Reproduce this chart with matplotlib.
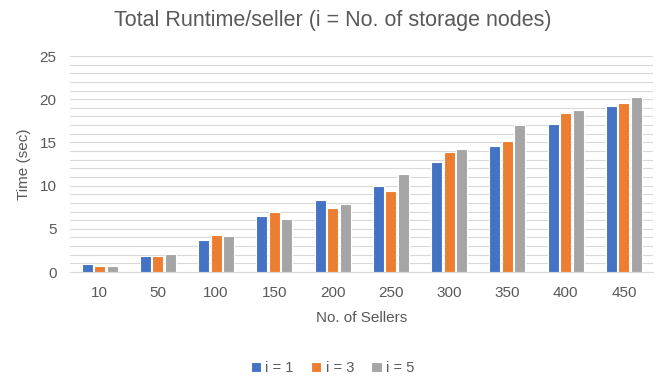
import matplotlib
matplotlib.use('Agg')
from matplotlib import pyplot as plt
import numpy as np

plt.rcParams['font.family'] = ['Liberation Sans', 'DejaVu Sans']

sellers = ['10', '50', '100', '150', '200', '250', '300', '350', '400', '450']
series_names = ['i = 1', 'i = 3', 'i = 5']
runtime_i1 = [0.93, 1.9, 3.7, 6.45, 8.38, 10.0, 12.74, 14.56, 17.14, 19.27]
runtime_i3 = [0.73, 1.9, 4.32, 6.95, 7.41, 9.38, 13.9, 15.2, 18.45, 19.61]
runtime_i5 = [0.73, 2.08, 4.17, 6.1, 7.9, 11.3, 14.25, 17.0, 18.76, 20.23]
colors = ['#4472C4', '#ED7D31', '#A5A5A5']

TEXT = '#595959'
GRID = '#D9D9D9'

fig = plt.figure(figsize=(6.65, 3.81), dpi=100)
ax = fig.add_axes([0.106, 0.286, 0.876, 0.567])

x = np.arange(len(sellers))
width = 0.19
step = 0.215
for k, (vals, name) in enumerate(zip([runtime_i1, runtime_i3, runtime_i5], series_names)):
    ax.bar(x + (k - 1) * step, vals, width, color=colors[k], label=name,
           edgecolor='white', linewidth=0.8, zorder=3)

ax.set_xlim(-0.5, 9.5)
ax.set_ylim(0, 25)
ax.set_yticks(np.arange(0, 26, 5))
ax.set_yticks(np.arange(0, 26, 1), minor=True)
ax.set_xticks(x)
ax.set_xticklabels(sellers)
ax.grid(axis='y', which='both', color=GRID, linewidth=0.8, zorder=0)
ax.tick_params(axis='both', which='both', length=0, colors=TEXT, labelsize=11)
ax.tick_params(axis='x', pad=10)
ax.tick_params(axis='y', pad=10)
for side in ['top', 'right', 'left']:
    ax.spines[side].set_visible(False)
ax.spines['bottom'].set_color(GRID)

ax.set_xlabel('No. of Sellers', color=TEXT, fontsize=11, labelpad=8)
ax.set_ylabel('Time (sec)', color=TEXT, fontsize=11, labelpad=6)
fig.suptitle('Total Runtime/seller (i = No. of storage nodes)', color=TEXT,
             fontsize=15.5, x=0.5, y=0.975)

leg = fig.legend(loc='center', bbox_to_anchor=(0.5, 0.033), ncol=3, frameon=False,
                 fontsize=10.5, handlelength=0.7, handleheight=0.7, handletextpad=0.3,
                 columnspacing=1.2)
for t in leg.get_texts():
    t.set_color(TEXT)

fig.savefig('out.png', dpi=100)
